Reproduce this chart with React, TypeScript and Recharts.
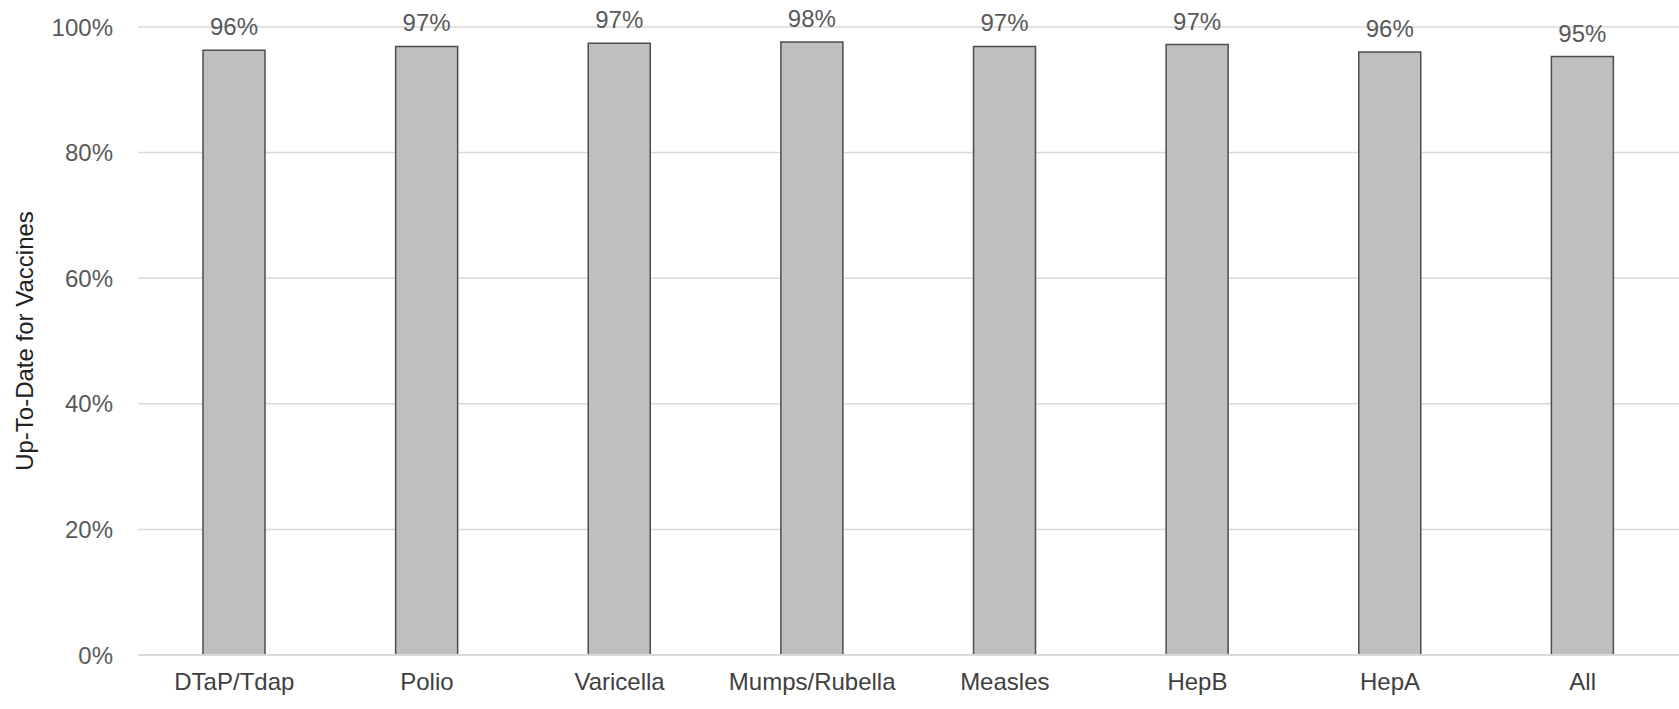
import { BarChart, Bar, XAxis, YAxis, CartesianGrid, LabelList } from "recharts";

const vaccines = ["DTaP/Tdap", "Polio", "Varicella", "Mumps/Rubella", "Measles", "HepB", "HepA", "All"];
const upToDate = [96.3, 96.9, 97.4, 97.6, 96.9, 97.2, 96.0, 95.3];
const yTicks = [0, 20, 40, 60, 80, 100];

const data = vaccines.map((name, i) => ({ name, value: upToDate[i] }));

const font = "Arial, 'Liberation Sans', sans-serif";

const App = () => {
  return (
    <div style={{ position: "absolute", top: 0, left: 0, fontFamily: font }}>
      <BarChart
        width={1679}
        height={709}
        data={data}
        margin={{ top: 27, right: 0, bottom: 0, left: 0 }}
        barCategoryGap="34%"
      >
        <CartesianGrid vertical={false} stroke="#d9d9d9" strokeWidth={1.5} />
        <XAxis
          dataKey="name"
          height={54}
          tickLine={false}
          tickSize={0}
          tickMargin={18}
          axisLine={{ stroke: "#d9d9d9", strokeWidth: 2 }}
          tick={{ fill: "#404040", fontSize: 24, fontFamily: font }}
          interval={0}
        />
        <YAxis
          width={138}
          domain={[0, 100]}
          ticks={yTicks}
          tickFormatter={(v) => `${v}%`}
          axisLine={false}
          tickLine={false}
          tickSize={0}
          tickMargin={25}
          tick={{ fill: "#595959", fontSize: 24, fontFamily: font }}
          label={{
            value: "Up-To-Date for Vaccines",
            angle: -90,
            position: "center",
            dx: -45,
            fill: "#222222",
            fontSize: 24,
            fontFamily: font,
          }}
        />
        <Bar
          dataKey="value"
          fill="#bfbfbf"
          stroke="#4d4d4d"
          strokeWidth={1.5}
          barSize={62}
          isAnimationActive={false}
        >
          <LabelList
            dataKey="value"
            position="top"
            offset={15}
            formatter={(v: number) => `${Math.round(v)}%`}
            fill="#595959"
            fontSize={24}
            fontFamily={font}
          />
        </Bar>
      </BarChart>
    </div>
  );
};

export default App;
